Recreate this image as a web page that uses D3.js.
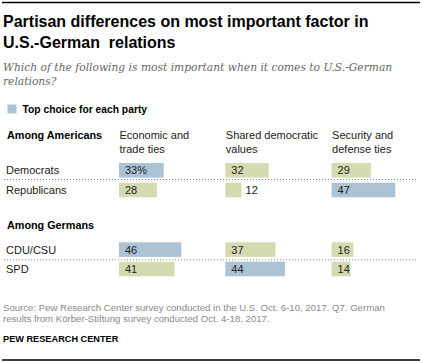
<!DOCTYPE html>
<html><head><meta charset="utf-8">
<script src="https://cdn.jsdelivr.net/npm/d3@7"></script>
<style>
html,body{margin:0;padding:0;background:#fff;}
svg{display:block;}
</style></head>
<body>
<script>
const title = ["Partisan differences on most important factor in", "U.S.-German  relations"];
const subtitle = ["Which of the following is most important when it comes to U.S.-German", "relations?"];
const legendLabel = "Top choice for each party";
const columns = [["Economic and", "trade ties"], ["Shared democratic", "values"], ["Security and", "defense ties"]];
const sections = ["Among Americans", "Among Germans"];
const groupsAmericans = ["Democrats", "Republicans"];
const groupsGermans = ["CDU/CSU", "SPD"];
const economic = [33, 28, 46, 41];
const shared = [32, 12, 37, 44];
const security = [29, 47, 16, 14];
const topChoice = ["economic", "security", "economic", "shared"];
const sourceLines = ["Source: Pew Research Center survey conducted in the U.S. Oct. 6-10, 2017. Q7. German", "results from Körber-Stiftung survey conducted Oct. 4-18, 2017."];
const credit = "PEW RESEARCH CENTER";

const W = 422, H = 363;
const svg = d3.select("body").append("svg").attr("width", W).attr("height", H);
const sans = "'Liberation Sans', Arial, sans-serif";
const blue = "#abc3d5", green = "#d6dab1";

// rules
svg.append("line").attr("x1", 2).attr("x2", 420).attr("y1", 2.5).attr("y2", 2.5).attr("stroke", "#000").attr("stroke-width", 1.4);
svg.append("line").attr("x1", 2).attr("x2", 420).attr("y1", 360).attr("y2", 360).attr("stroke", "#000").attr("stroke-width", 1.4);

// title
svg.selectAll("text.title").data(title).join("text").attr("class", "title")
  .attr("x", 3).attr("y", (d, i) => 26.5 + i * 21.8)
  .style("font-family", sans).style("font-weight", "bold").style("font-size", "16px").attr("fill", "#000")
  .style("white-space", "pre").text(d => d);

// subtitle
svg.selectAll("text.sub").data(subtitle).join("text").attr("class", "sub")
  .attr("x", 3).attr("y", (d, i) => 71 + i * 14)
  .style("font-family", "'DejaVu Serif', Georgia, serif").style("font-style", "italic").style("font-size", "10.7px")
  .attr("fill", "#666").text(d => d);

// legend
svg.append("rect").attr("x", 7.5).attr("y", 104.5).attr("width", 9).attr("height", 9).attr("fill", blue);
svg.append("text").attr("x", 22.5).attr("y", 112.5).style("font-family", sans).style("font-weight", "bold")
  .style("font-size", "10.3px").text(legendLabel);

// scales
const colNames = ["economic", "shared", "security"];
const colX = d3.scaleBand().domain(colNames).range([119, 119 + 3 * 106.3]).padding(0);
const x = d3.scaleLinear().domain([0, 100]).range([0, 135.5]);
const rows = groupsAmericans.concat(groupsGermans);
const rowY = d3.scaleOrdinal().domain(rows).range([163, 182.7, 242.3, 261.7]);
const barH = 14.6;
const valueBy = {economic, shared, security};

// section headers
svg.selectAll("text.sec").data(sections).join("text").attr("class", "sec")
  .attr("x", 7).attr("y", (d, i) => [139, 228.8][i])
  .style("font-family", sans).style("font-weight", "bold").style("font-size", "10.8px").text(d => d);

// column headers
colNames.forEach((c, ci) => {
  svg.selectAll("text.col" + ci).data(columns[ci]).join("text").attr("class", "col" + ci)
    .attr("x", colX(c) + 0.5).attr("y", (d, i) => 139 + i * 13.6)
    .style("font-family", sans).style("font-size", "11px").attr("fill", "#222").text(d => d);
});

// row labels
svg.selectAll("text.row").data(rows).join("text").attr("class", "row")
  .attr("x", 6).attr("y", d => rowY(d) + 11.2)
  .style("font-family", sans).style("font-size", "11px").attr("fill", "#222").text(d => d);

// dotted separators
[179.5, 259.8].forEach(y => {
  svg.append("line").attr("x1", 4).attr("x2", 416).attr("y1", y).attr("y2", y)
    .attr("stroke", "#888").attr("stroke-width", 1).attr("stroke-dasharray", "1,2");
});

// bars
colNames.forEach(c => {
  const data = rows.map((r, i) => ({r, v: valueBy[c][i], top: topChoice[i] === c, i}));
  const g = svg.append("g");
  g.selectAll("rect").data(data).join("rect")
    .attr("x", colX(c)).attr("y", d => rowY(d.r)).attr("width", d => x(d.v)).attr("height", barH)
    .attr("fill", d => d.top ? blue : green);
  g.selectAll("text").data(data).join("text")
    .attr("x", d => x(d.v) < 18 ? colX(c) + x(d.v) + 4 : colX(c) + 6)
    .attr("y", d => rowY(d.r) + 11.2)
    .style("font-family", sans).style("font-size", "11px").attr("fill", "#222")
    .text(d => d.i === 0 && c === "economic" ? d.v + "%" : d.v);
});

// source
svg.selectAll("text.src").data(sourceLines).join("text").attr("class", "src")
  .attr("x", 3).attr("y", (d, i) => 310.7 + i * 11)
  .style("font-family", sans).style("font-size", "9.6px").attr("fill", "#8a8a8a").text(d => d);
svg.append("text").attr("x", 3).attr("y", 342.3).style("font-family", sans).style("font-weight", "bold")
  .style("font-size", "9.2px").attr("fill", "#000").text(credit);
</script>
</body></html>
